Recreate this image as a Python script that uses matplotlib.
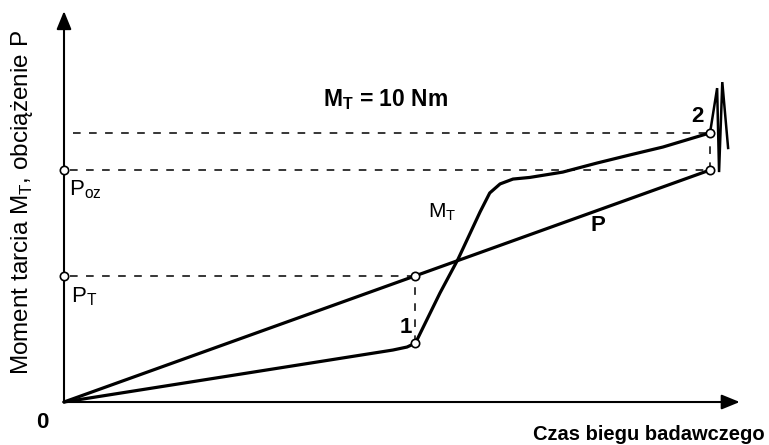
import matplotlib
matplotlib.use("Agg")
import matplotlib.pyplot as plt

plt.rcParams['font.family'] = ['Liberation Sans', 'DejaVu Sans']

# ---- data (arbitrary units: time 0..100, load P 0..100) ----
t_P = [0, 100]
P_vals = [0, 100]

t_MT = [0, 50.9, 53.1, 54.4, 58.2, 61.0, 64.4, 65.9, 67.5, 69.5, 72.1, 77.2, 82.5, 87.6, 92.7, 100]
MT_vals = [0, 22.4, 23.7, 25.4, 47.0, 61.6, 81.9, 90.1, 94.0, 96.1, 96.8, 99.1, 103.0, 106.5, 109.9, 116.0]

# seizure spikes at the end of the run
t_spike = [100, 101.1, 101.4, 101.9, 102.8]
MT_spike = [116.0, 135.3, 99.1, 137.9, 109.5]

t1, P_T, MT1 = 54.4, 54.4, 25.4      # point 1
t2, P_oz, MT2 = 100, 100, 116.0      # point 2

fig = plt.figure(figsize=(7.69, 4.45), dpi=100)
ax = fig.add_axes([0, 0, 1, 1])
ax.set_xlim(-9.907, 109.13)
ax.set_ylim(-18.53, 173.28)
ax.axis('off')

# axes with arrows
ax.annotate('', xy=(0, 168.5), xytext=(0, 0),
            arrowprops=dict(arrowstyle='-|>,head_length=1.1,head_width=0.45',
                            lw=1.5, color='black', shrinkA=0, shrinkB=0, mutation_scale=10))
ax.annotate('', xy=(104.6, 0), xytext=(0, 0),
            arrowprops=dict(arrowstyle='-|>,head_length=1.1,head_width=0.45',
                            lw=1.5, color='black', shrinkA=0, shrinkB=0, mutation_scale=10))

dash = dict(color='black', lw=1.1, linestyle=(0, (5, 5.5)))
ax.plot([1.4, t2], [MT2, MT2], **dash)
ax.plot([0.9, t2], [P_oz, P_oz], **dash)
ax.plot([0.9, t1], [P_T, P_T], **dash)
ax.plot([t1, t1], [MT1, P_T], **dash)
ax.plot([t2, t2], [P_oz, MT2], **dash)

# curves
ax.plot(t_P, P_vals, color='black', lw=2.3, solid_capstyle='round')
ax.plot(t_MT, MT_vals, color='black', lw=2.3, solid_joinstyle='round', solid_capstyle='round')
ax.plot(t_spike, MT_spike, color='black', lw=1.8, solid_joinstyle='miter')

# open circle markers
mk = dict(marker='o', ms=6, mfc='white', mec='black', mew=1.2, linestyle='none', zorder=5)
ax.plot([0, 0, t1, t1, t2, t2], [P_oz, P_T, P_T, MT1, P_oz, MT2], **mk)

ax.text(49.7, 130.5, r'M$_\mathregular{T}$ = 10 Nm', fontsize=16.5, fontweight='bold',
        ha='center', va='center')
ax.text(0.8, 91.5, r'P$_\mathregular{oz}$', fontsize=16, ha='left', va='center')
ax.text(1.1, 45.5, r'P$_\mathregular{T}$', fontsize=16, ha='left', va='center')
ax.text(56.3, 82.0, r'M$_\mathregular{T}$', fontsize=15, ha='left', va='center')
ax.text(82.7, 76.0, 'P', fontsize=16, fontweight='bold', ha='center', va='center')
ax.text(52.9, 32.0, '1', fontsize=16, fontweight='bold', ha='center', va='center')
ax.text(98.0, 123.0, '2', fontsize=16, fontweight='bold', ha='center', va='center')
ax.text(-3.4, -9.0, '0', fontsize=16, fontweight='bold', ha='center', va='center')
ax.text(108.5, -14.0, 'Czas biegu badawczego', fontsize=14.5, fontweight='bold',
        ha='right', va='center')
ax.text(-6.5, 86.0, r'Moment tarcia M$_\mathregular{T}$, obciążenie P', fontsize=17.5,
        rotation=90, ha='center', va='center')

fig.savefig('out.png', dpi=100)
